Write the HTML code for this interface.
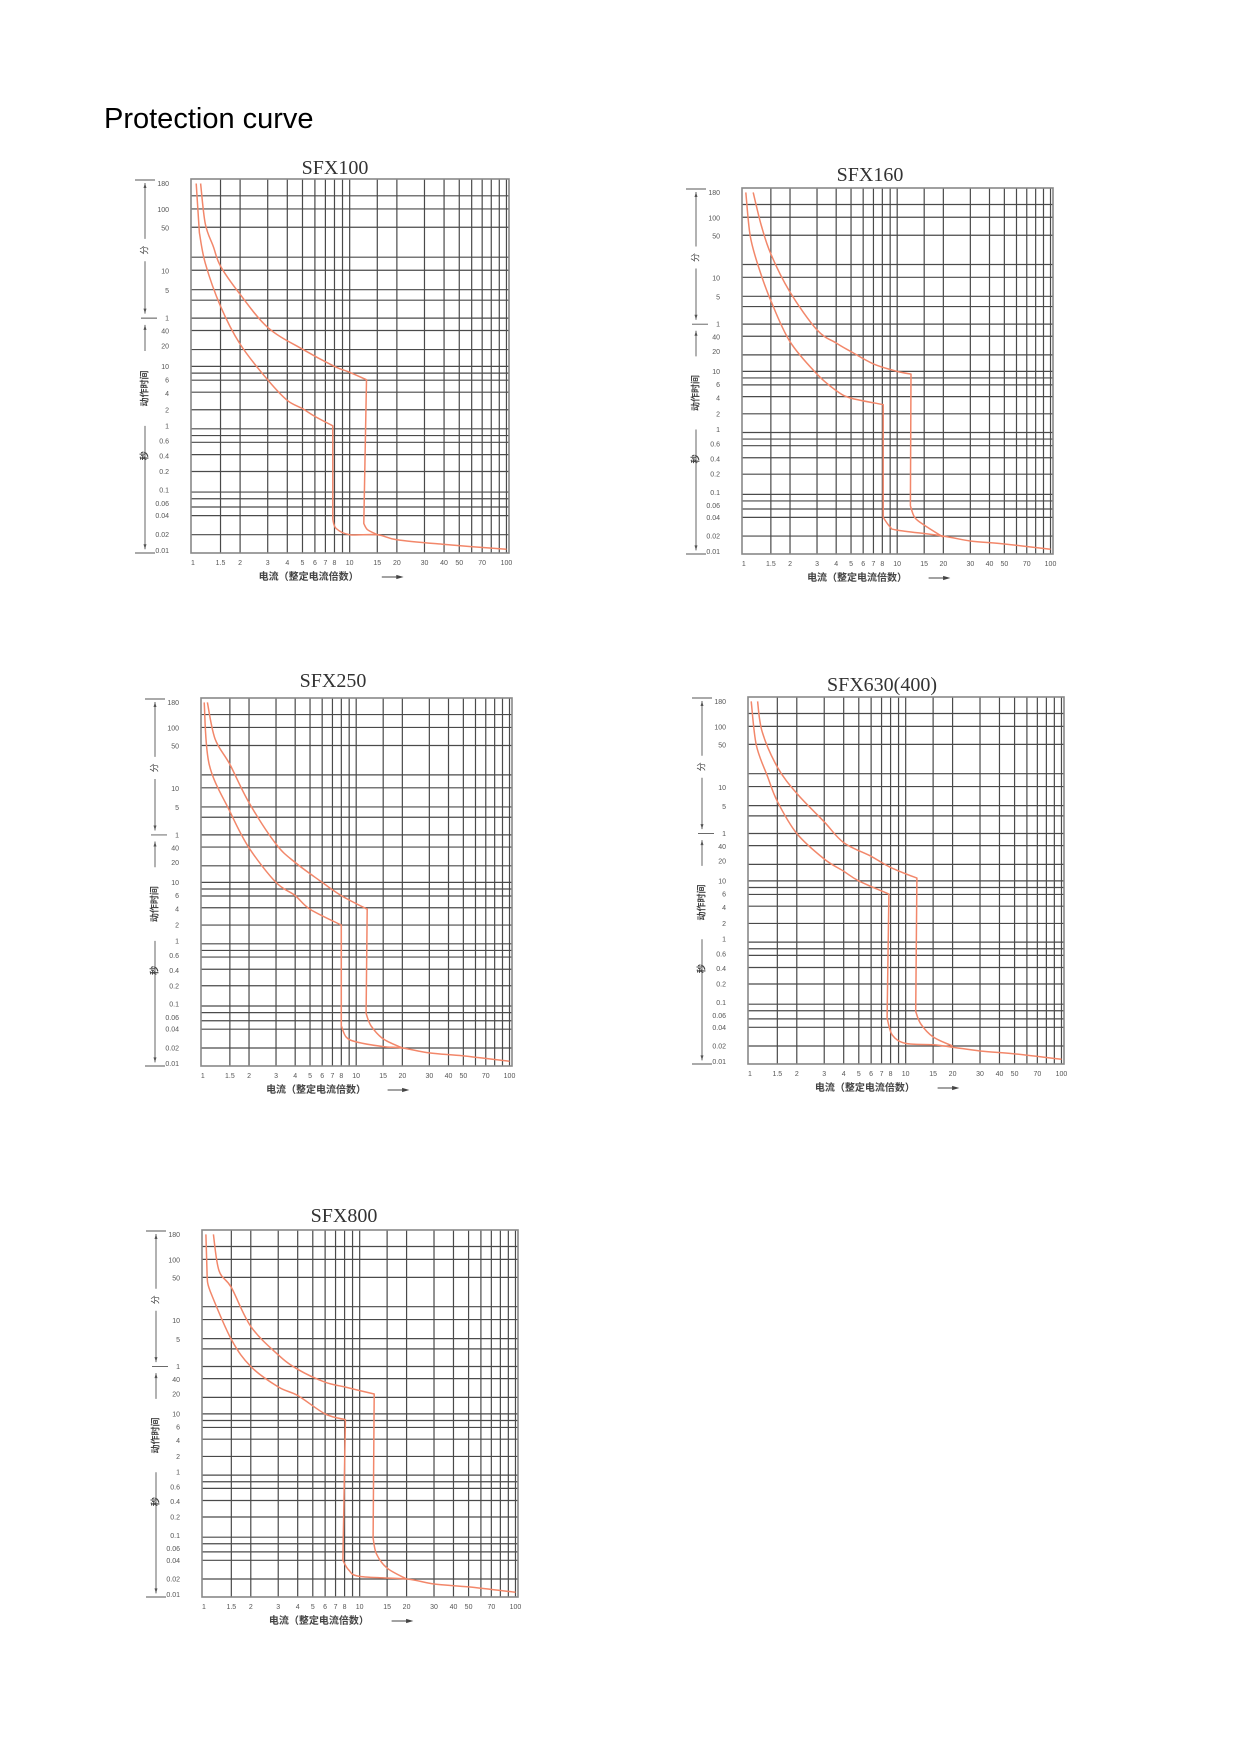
<!DOCTYPE html>
<html><head><meta charset="utf-8">
<style>
html,body{margin:0;padding:0;background:#fff;}
#page{position:relative;width:1240px;height:1754px;overflow:hidden;background:#fff;}
#page-title{position:absolute;left:104px;top:103px;font:29px "Liberation Sans","Noto Sans CJK SC",sans-serif;color:#000;margin:0;font-weight:normal;}
svg{position:absolute;left:0;top:0;}
</style></head>
<body>
<div id="page">
<h1 id="page-title">Protection curve</h1>
<svg id="chart-svg" width="1240" height="1754"></svg>
</div>
<script>
// ---- shared axis data ----
const yTickSeconds = [10800,6000,3000,600,300,60,40,20,10,6,4,2,1,0.6,0.4,0.2,0.1,0.06,0.04,0.02,0.01];
const yTickLabels = ["180","100","50","10","5","1","40","20","10","6","4","2","1","0.6","0.4","0.2","0.1","0.06","0.04","0.02","0.01"];
const xTickValues = [1,1.5,2,3,4,5,6,7,8,10,15,20,30,40,50,70,100];
const xTickLabels = ["1","1.5","2","3","4","5","6","7","8","10","15","20","30","40","50","70","100"];
const xGridValues = [1.5,2,3,4,5,6,7,8,9,10,15,20,30,40,50,60,70,80,90,100];
// chart titles
const chartTitles = ["SFX100","SFX160","SFX250","SFX630(400)","SFX800"];
// curves: [multiple, seconds]
const innerSFX100 = [[1.05,11000],[1.1,2500],[1.2,800],[1.5,120],[2,22],[3,6],[4,3],[5,2.1],[6,1.5],[7.8,1],[7.8,0.035],[8.2,0.025],[10,0.02],[15,0.02],[20,0.016],[40,0.013],[100,0.0105]];
const outerSFX100 = [[1.12,11000],[1.2,3500],[1.35,1500],[1.5,720],[2,240],[3,45],[5,18],[8,10],[10,8],[12.8,6],[12.3,0.03],[13,0.024],[15,0.02]];
const innerSFX160 = [[1.03,11000],[1.1,3000],[1.25,900],[1.5,240],[2,32],[3,9],[4,5],[5,4],[8.1,3],[8.1,0.04],[9,0.028],[10,0.025],[20,0.02],[30,0.016],[50,0.014],[100,0.011]];
const outerSFX160 = [[1.15,11000],[1.3,4500],[1.5,1500],[2,360],[3,50],[4,30],[5,20],[7,13],[10,10],[12.3,9],[12.2,0.06],[13,0.04],[15,0.03],[20,0.019]];
const innerSFX250 = [[1.02,11000],[1.1,1500],[1.5,240],[2,40],[3,10],[4,6],[5,4],[8,2],[8,0.045],[8.6,0.03],[10,0.025],[15,0.021],[20,0.02],[30,0.016],[50,0.014],[100,0.011]];
const outerSFX250 = [[1.07,11000],[1.2,4000],[1.5,1500],[2,360],[3,45],[4,20],[6,10],[8,6],[11.8,4],[11.6,0.07],[12.5,0.045],[15,0.028],[20,0.02]];
const innerSFX630 = [[1.02,11000],[1.1,3000],[1.3,900],[1.5,360],[2,60],[3,22],[4,14],[5,10],[7.8,6],[7.6,0.055],[8.2,0.03],[10,0.022],[15,0.021],[20,0.019],[30,0.016],[50,0.014],[100,0.011]];
const outerSFX630 = [[1.12,11000],[1.2,5000],[1.5,1300],[2,480],[3,120],[4,45],[6,25],[8,16],[11.8,11],[11.6,0.07],[12.5,0.045],[15,0.028],[20,0.02]];
const innerSFX800 = [[1.03,11000],[1.05,3000],[1.1,1800],[1.5,300],[2,60],[3,28],[4,19],[6,10],[8.1,8],[7.8,0.04],[8.5,0.028],[10,0.022],[20,0.02],[30,0.016],[50,0.014],[100,0.011]];
const outerSFX800 = [[1.15,11000],[1.25,4000],[1.5,2100],[2,480],[3,120],[4,55],[6,35],[8,28],[12.4,20],[12.2,0.09],[12.8,0.05],[15,0.03],[20,0.02]];
const chartCurves = [[innerSFX100,outerSFX100],[innerSFX160,outerSFX160],[innerSFX250,outerSFX250],[innerSFX630,outerSFX630],[innerSFX800,outerSFX800]];

// ---- layout (positions, not data) ----
const boxes = [
  {x:191,y:179,w:318,h:374,tx:335,ty:174},
  {x:742,y:188,w:311,h:366,tx:870,ty:181},
  {x:201,y:698,w:311,h:368,tx:333,ty:687},
  {x:748,y:697,w:316,h:367,tx:882,ty:691},
  {x:202,y:1230,w:316,h:367,tx:344,ty:1222}
];
const yTickFrac = [0.0125,0.082,0.131,0.246,0.298,0.372,0.407,0.447,0.501,0.537,0.574,0.617,0.660,0.700,0.740,0.782,0.832,0.868,0.900,0.951,0.993];
const hGridFrac = [0.045,0.080,0.129,0.209,0.244,0.296,0.324,0.372,0.405,0.456,0.501,0.519,0.538,0.570,0.617,0.668,0.686,0.704,0.737,0.782,0.837,0.855,0.877,0.900,0.951];

const NS="http://www.w3.org/2000/svg";
const svg=document.getElementById('chart-svg');
function mk(tag,attrs,parent){const e=document.createElementNS(NS,tag);for(const k in attrs)e.setAttribute(k,attrs[k]);(parent||svg).appendChild(e);return e;}

function xScale(b,v){return b.x+(0.006+Math.log10(v)/2*0.986)*b.w;}
function yScale(b,s){
  const L=Math.log10(s);
  const ls=yTickSeconds.map(v=>Math.log10(v));
  let f;
  if(L>=ls[0]){f=yTickFrac[0]-(L-ls[0])*0.07;}
  else if(L<=ls[ls.length-1]){f=yTickFrac[ls.length-1]+(ls[ls.length-1]-L)*0.2;}
  else{for(let i=0;i<ls.length-1;i++){if(L<=ls[i]&&L>=ls[i+1]){const t=(ls[i]-L)/(ls[i]-ls[i+1]);f=yTickFrac[i]+t*(yTickFrac[i+1]-yTickFrac[i]);break;}}}
  f=Math.max(0.002,Math.min(0.998,f));
  return b.y+f*b.h;
}
// smooth path: Catmull-Rom on pieces, straight on long near-vertical segments
function smoothPath(P){
  const pieces=[];let cur=[P[0]];
  for(let i=1;i<P.length;i++){
    const a=P[i-1],c=P[i];
    if(Math.abs(c[0]-a[0])<4&&Math.abs(c[1]-a[1])>30){pieces.push(cur);cur=[c];}
    else cur.push(c);
  }
  pieces.push(cur);
  let d='M'+P[0][0].toFixed(1)+' '+P[0][1].toFixed(1);
  pieces.forEach((pc,pi)=>{
    if(pi>0)d+=' L'+pc[0][0].toFixed(1)+' '+pc[0][1].toFixed(1);
    for(let i=0;i<pc.length-1;i++){
      const p0=pc[i-1]||pc[i],p1=pc[i],p2=pc[i+1],p3=pc[i+2]||p2;
      const c1=[p1[0]+(p2[0]-p0[0])/6,p1[1]+(p2[1]-p0[1])/6];
      const c2=[p2[0]-(p3[0]-p1[0])/6,p2[1]-(p3[1]-p1[1])/6];
      d+=` C${c1[0].toFixed(1)} ${c1[1].toFixed(1)} ${c2[0].toFixed(1)} ${c2[1].toFixed(1)} ${p2[0].toFixed(1)} ${p2[1].toFixed(1)}`;
    }
  });
  return d;
}
const font='"Liberation Sans","Noto Sans CJK SC",sans-serif';

chartTitles.forEach((title,ci)=>{
  const b=boxes[ci];
  const g=mk('g',{});
  
  
  const t=mk('text',{x:b.tx,y:b.ty,'text-anchor':'middle','font-family':'"Liberation Serif",serif','font-size':20,fill:'#333'},g);
  t.textContent=title;
  
  
  hGridFrac.forEach(f=>{const l=mk('line',{x1:b.x,x2:b.x+b.w,y1:b.y+f*b.h,y2:b.y+f*b.h,stroke:'#4a4a4a','stroke-width':1.2},g);
    });
  xGridValues.forEach(v=>{const x=Math.min(xScale(b,v),b.x+b.w-1);const l=mk('line',{x1:x,x2:x,y1:b.y,y2:b.y+b.h,stroke:'#4a4a4a','stroke-width':1.2},g);
    });
  const r=mk('rect',{x:b.x,y:b.y,width:b.w,height:b.h,fill:'none',stroke:'#888','stroke-width':1.6},g);
  
  yTickSeconds.forEach((s,i)=>{const tt=mk('text',{x:b.x-22,y:yScale(b,s)+2.5,'text-anchor':'end','font-family':font,'font-size':7,fill:'#555'},g);
    tt.textContent=yTickLabels[i];});
  xTickValues.forEach((v,i)=>{const tt=mk('text',{x:xScale(b,v),y:b.y+b.h+12,'text-anchor':'middle','font-family':font,'font-size':7,fill:'#555'},g);
    tt.textContent=xTickLabels[i];});
  const xt=mk('text',{x:b.x+0.37*b.w,y:b.y+b.h+27,'text-anchor':'middle','font-family':font,'font-size':10,'font-weight':'bold',fill:'#444'},g);
  xt.textContent='电流（整定电流倍数）';
  const ax0=b.x+0.6*b.w, ay0=b.y+b.h+24;
  const ar=mk('path',{d:`M${ax0} ${ay0}h20 M${ax0+20} ${ay0}l-5 -1.5v3z`,stroke:'#444','stroke-width':1,fill:'#444'},g);
  
  const ax=b.x-46;
  const ann=mk('path',{d:`M${ax-10} ${b.y+1}h20 M${ax} ${b.y+4}V${b.y+0.16*b.h} M${ax} ${b.y+0.22*b.h}V${b.y+0.36*b.h} M${ax-4} ${b.y+0.372*b.h}h16 M${ax} ${b.y+0.39*b.h}V${b.y+0.46*b.h} M${ax} ${b.y+0.66*b.h}V${b.y+0.99*b.h} M${ax-10} ${b.y+b.h}h20`,stroke:'#555','stroke-width':0.9,fill:'none'},g);
  
  const arrows=mk('path',{d:`M${ax} ${b.y+4}l-1.5 5h3z M${ax} ${b.y+0.36*b.h}l-1.5 -5h3z M${ax} ${b.y+0.39*b.h}l-1.5 5h3z M${ax} ${b.y+0.99*b.h}l-1.5 -5h3z`,fill:'#555',stroke:'none'},g);
  
  const t1=mk('text',{x:ax,y:b.y+0.19*b.h,'text-anchor':'middle','font-family':font,'font-size':9,fill:'#444',transform:`rotate(-90 ${ax} ${b.y+0.19*b.h})`,'dominant-baseline':'middle'},g);
  t1.textContent='分';
  const t2=mk('text',{x:ax,y:b.y+0.56*b.h,'text-anchor':'middle','font-family':font,'font-size':9,'font-weight':'bold',fill:'#444',transform:`rotate(-90 ${ax} ${b.y+0.56*b.h})`,'dominant-baseline':'middle'},g);
  t2.textContent='动作时间';
  const t3=mk('text',{x:ax,y:b.y+0.74*b.h,'text-anchor':'middle','font-family':font,'font-size':9,'font-weight':'bold',fill:'#444',transform:`rotate(-90 ${ax} ${b.y+0.74*b.h})`,'dominant-baseline':'middle'},g);
  t3.textContent='秒';
  chartCurves[ci].forEach((pts,k)=>{
    const P=pts.map(p=>[xScale(b,p[0]),yScale(b,p[1])]);
    const c=mk('path',{d:smoothPath(P),fill:'none',stroke:'#f2876a','stroke-width':1.5,'stroke-linejoin':'round'},g);
    
    
  });
});
</script>
</body></html>
